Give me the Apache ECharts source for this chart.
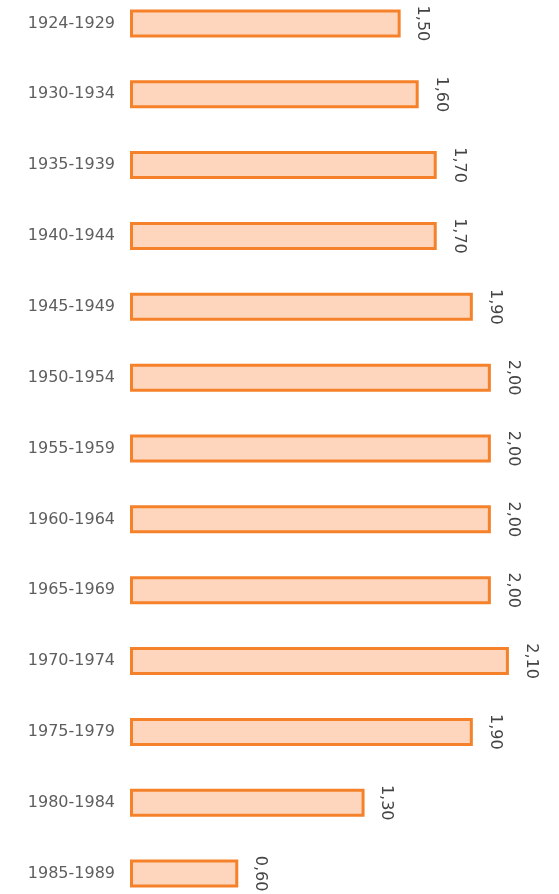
<!DOCTYPE html>
<html>
<head>
<meta charset="utf-8">
<script src="https://cdn.jsdelivr.net/npm/echarts@6/dist/echarts.min.js"></script>
<style>
  html, body { margin: 0; padding: 0; background: #fff; overflow: hidden; }
  #chart { position: absolute; left: 0; top: -12px; width: 559px; height: 921px; }
</style>
</head>
<body>
<div id="chart"></div>
<script>
const periods = ['1924-1929', '1930-1934', '1935-1939', '1940-1944', '1945-1949', '1950-1954', '1955-1959',
  '1960-1964', '1965-1969', '1970-1974', '1975-1979', '1980-1984', '1985-1989']
const values = [1.5, 1.6, 1.7, 1.7, 1.9, 2.0, 2.0, 2.0, 2.0, 2.1, 1.9, 1.3, 0.6]

const chart = echarts.init(document.getElementById('chart'))

// 整个画布向上偏移 12px，让第一根柱子贴近顶部
const option = {
  animation: false,
  grid: { left: 130, right: 14, top: 0, bottom: 0 },
  xAxis: {
    type: 'value',
    min: 0,
    max: 2.3,
    show: false
  },
  yAxis: {
    type: 'category',
    data: periods,
    inverse: true,
    axisLine: { show: false },
    axisTick: { show: false },
    axisLabel: {
      margin: 15,
      fontSize: 16,
      color: '#5e5e5e',
      fontFamily: 'DejaVu Sans'
    }
  },
  series: [
    {
      type: 'bar',
      data: values,
      barWidth: 28,
      itemStyle: {
        color: '#fdd6bd',
        borderColor: '#f5822a',
        borderWidth: 3
      },
      label: {
        show: true,
        position: 'right',
        distance: 14,
        rotate: -90,
        align: 'center',
        verticalAlign: 'bottom',
        fontSize: 16,
        color: '#444',
        fontFamily: 'DejaVu Sans',
        formatter(p) {
          return p.value.toFixed(2).replace('.', ',')
        }
      }
    }
  ]
}

chart.setOption(option)
</script>
</body>
</html>
